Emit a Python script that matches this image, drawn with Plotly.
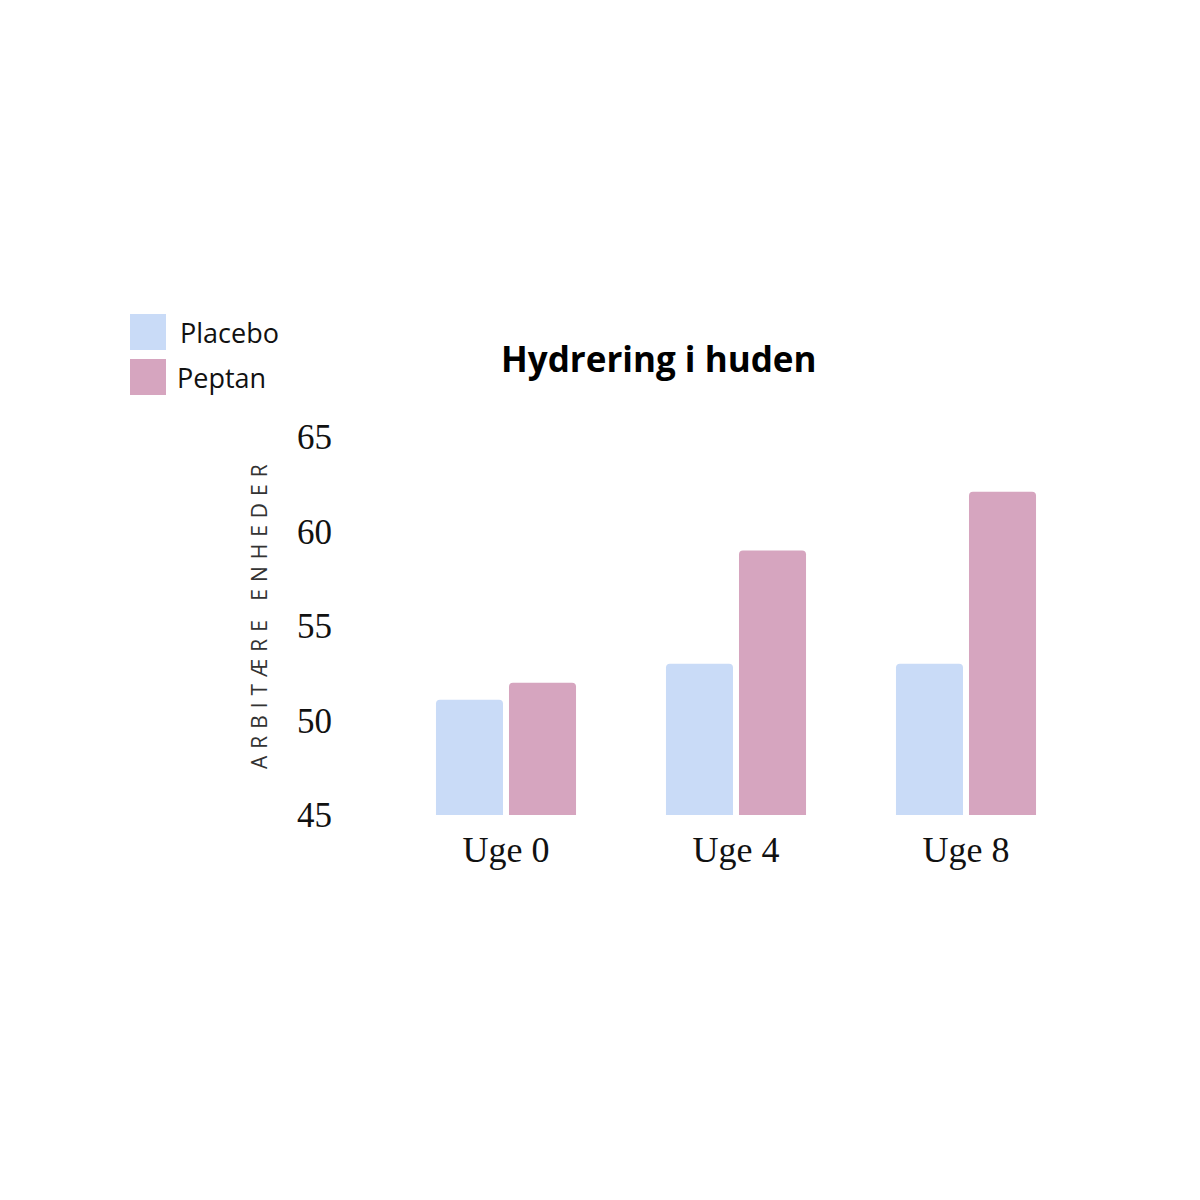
import plotly.graph_objects as go

categories = ["Uge 0", "Uge 4", "Uge 8"]
series_names = ["Placebo", "Peptan"]
placebo = [51.1, 53.0, 53.0]
peptan = [52.0, 59.0, 62.1]
y_ticks = [45, 50, 55, 60, 65]
title_text = "Hydrering i huden"
y_title = "ARBITÆRE ENHEDER"

colors = ["#c9dbf7", "#d6a5bf"]

W, H = 1200, 1200
OFF = 8  # default page body margin
L, R, T, B = 391 - OFF, 119 + OFF, 437 - OFF, 385 + OFF
pw, ph = W - L - R, H - T - B

def px(x):
    return (x - OFF - L) / pw

def py(y):
    return 1 - (y - OFF - T) / ph

fig = go.Figure()
for name, vals, col in zip(series_names, [placebo, peptan], colors):
    fig.add_trace(go.Bar(x=categories, y=vals, name=name,
                         marker=dict(color=col, line=dict(width=0), cornerradius=4),
                         showlegend=False))

fig.update_layout(
    width=W, height=H,
    margin=dict(l=L, r=R, t=T, b=B),
    paper_bgcolor="white", plot_bgcolor="white",
    barmode="group", bargap=0.365, bargroupgap=0.082,
    xaxis=dict(showgrid=False, showline=False, zeroline=False, ticks="",
               tickfont=dict(family="Liberation Serif, DejaVu Serif, serif", size=36, color="#111"),
               ticklabelstandoff=10),
    yaxis=dict(range=[45, 65], tickvals=y_ticks, showgrid=False, showline=False,
               zeroline=False, ticks="",
               tickfont=dict(family="Liberation Serif, DejaVu Serif, serif", size=35, color="#111"),
               ticklabelstandoff=58),
    font=dict(family="Open Sans"),
)

# title
fig.add_annotation(text=f"<b>{title_text}</b>", xref="paper", yref="paper",
                   x=px(658), y=py(358), showarrow=False, xanchor="center", yanchor="middle",
                   font=dict(family="Open Sans", size=35, color="#000"))

# y axis title with letter spacing
spaced = "\u2009\u2009".join(list(y_title))
fig.add_annotation(text=spaced, xref="paper", yref="paper",
                   x=px(259), y=py(617), showarrow=False, textangle=-90,
                   xanchor="center", yanchor="middle",
                   font=dict(family="Open Sans", size=21, color="#333"))

# manual legend
leg_y = [332, 377]
leg_tx = [178, 175]
for name, col, yc, tx in zip(series_names, colors, leg_y, leg_tx):
    fig.add_shape(type="rect", xref="paper", yref="paper",
                  x0=px(130), x1=px(166), y0=py(yc - 18), y1=py(yc + 18),
                  fillcolor=col, line=dict(width=0))
    fig.add_annotation(text=name, xref="paper", yref="paper", x=px(tx), y=py(yc),
                       showarrow=False, xanchor="left", yanchor="middle",
                       font=dict(family="Open Sans", size=27, color="#111"))

fig.write_html("out.html")
